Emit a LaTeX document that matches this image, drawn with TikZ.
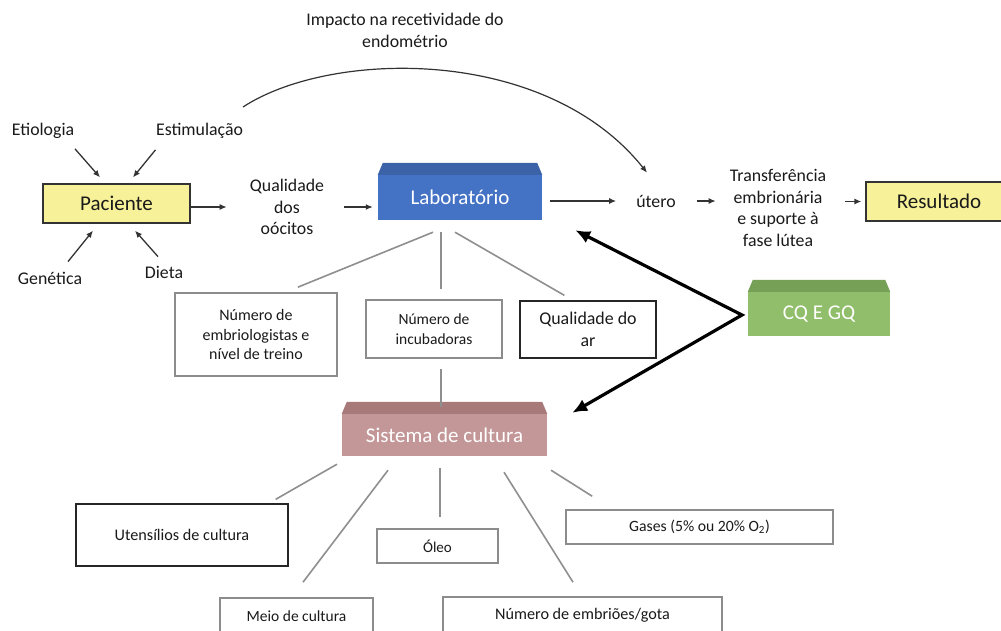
\documentclass[tikz,border=0pt]{standalone}
\usepackage{fontspec}
\setmainfont{Carlito}
\usetikzlibrary{arrows.meta,calc}
\definecolor{labblue}{HTML}{4472C4}
\definecolor{labtop}{HTML}{3C62A8}
\definecolor{cqgreen}{HTML}{90BE6A}
\definecolor{cqtop}{HTML}{76A055}
\definecolor{sysrose}{HTML}{C39797}
\definecolor{systop}{HTML}{A87979}
\definecolor{yfill}{HTML}{F7F199}
\definecolor{boxgray}{HTML}{8C8C8C}
\definecolor{lgray}{HTML}{8F8F8F}
\definecolor{arrgray}{HTML}{333333}
\definecolor{txt}{HTML}{1A1A1A}
\begin{document}
\begin{tikzpicture}[x=1pt,y=-1pt,
  lbl/.style={font=\fontsize{17.8}{21.5}\selectfont, text=txt, align=center, inner sep=1pt},
  sbox/.style={draw=boxgray, line width=1.6pt, fill=white, align=center, text=txt, inner sep=2pt},
  kbox/.style={draw=black!85, line width=1.3pt, fill=white, align=center, text=txt, inner sep=2pt},
  ybox/.style={draw=black!80, line width=1.3pt, fill=yfill, text=txt, font=\fontsize{21}{24}\selectfont},
  cube/.style={text=white, inner sep=0pt, font=\fontsize{21}{24}\selectfont},
  arr/.style={-{Latex[length=7pt,width=6pt]}, line width=1.3pt, draw=arrgray},
  tarr/.style={{Latex[length=15pt,width=13pt]}-{Latex[length=15pt,width=13pt]}, line width=3.2pt, draw=black, line join=miter},
  gl/.style={draw=lgray, line width=1.6pt}
]
\clip (0,0) rectangle (1001,630);
\fill[white] (0,0) rectangle (1001,630);

% labels
\node[lbl] (imp) at (405,30.5) {Impacto na recetividade do\\endométrio};
\node[lbl] (etio) at (43,131) {Etiologia};
\node[lbl] (estim) at (199.5,131) {Estimulação};
\node[lbl] (gen) at (50,278) {Genética};
\node[lbl] (dieta) at (164,272) {Dieta};
\node[ybox, minimum width=147pt, minimum height=39pt] (pac) at (116.5,203.5) {Paciente};
\node[lbl] (qual) at (287,207) {Qualidade\\dos\\oócitos};
\node[lbl] (utero) at (656,201) {útero};
\node[lbl] (transf) at (778,208) {Transferência\\embrionária\\e suporte à\\fase lútea};
\node[ybox, minimum width=146pt, minimum height=39pt] (res) at (939,201.5) {Resultado};

% 3D boxes
\node[cube, fill=labblue, minimum width=164pt, minimum height=45pt] (lab) at (460,197.5) {Laboratório};
\fill[labtop] (lab.north west) -- ([shift={(5,-12)}]lab.north west) -- ([shift={(-5,-12)}]lab.north east) -- (lab.north east) -- cycle;
\node[cube, fill=cqgreen, minimum width=142pt, minimum height=44pt] (cq) at (819,314) {CQ E GQ};
\fill[cqtop] (cq.north west) -- ([shift={(5,-12)}]cq.north west) -- ([shift={(-5,-12)}]cq.north east) -- (cq.north east) -- cycle;
\node[cube, fill=sysrose, minimum width=205pt, minimum height=42pt] (sys) at (444.5,435) {Sistema de cultura};
\fill[systop] (sys.north west) -- ([shift={(5,-12)}]sys.north west) -- ([shift={(-5,-12)}]sys.north east) -- (sys.north east) -- cycle;

% boxes
\node[sbox, minimum width=162pt, minimum height=83pt, font=\fontsize{16}{19.5}\selectfont] (emb) at (256,334.5) {Número de\\embriologistas e\\nível de treino};
\node[sbox, minimum width=136pt, minimum height=58pt, font=\fontsize{15.5}{19.5}\selectfont] (inc) at (434,329) {Número de\\incubadoras};
\node[kbox, minimum width=136pt, minimum height=57pt, font=\fontsize{17.9}{22}\selectfont] (air) at (588,329.5) {Qualidade do\\ar};
\node[kbox, minimum width=212pt, minimum height=62pt, font=\fontsize{16.2}{19}\selectfont] (ut) at (182,535) {Utensílios de cultura};
\node[sbox, minimum width=121pt, minimum height=34pt, font=\fontsize{15}{18}\selectfont] (oleo) at (437.5,546) {Óleo};
\node[sbox, minimum width=267pt, minimum height=34pt, font=\fontsize{15.7}{18}\selectfont] (gases) at (699.5,527) {Gases (5\% ou 20\% O\textsubscript{2})};
\node[sbox, minimum width=153pt, minimum height=36pt, font=\fontsize{15.5}{18}\selectfont] (meio) at (296.5,616) {Meio de cultura};
\node[sbox, minimum width=279pt, minimum height=36pt, font=\fontsize{16.2}{18}\selectfont] (gota) at (582.5,615) {Número de embriões/gota};

% small arrows into Paciente
\draw[arr] ([shift={(32,9)}]etio.south) -- ([shift={(-16.5,-6)}]pac.north);
\draw[arr] ([shift={(-44,10)}]estim.south) -- ([shift={(16.5,-6)}]pac.north);
\draw[arr] ([shift={(18,-9)}]gen.north) -- ([shift={(-23.5,7)}]pac.south);
\draw[arr] ([shift={(-6,-8)}]dieta.north) -- ([shift={(18.5,7)}]pac.south);

% main flow
\draw[arr, shorten >=22pt] (pac.east |- qual.west) -- (qual.west);
\draw[arr, shorten <=19pt, shorten >=5pt] (qual.east) -- (qual.east -| lab.west);
\draw[arr, shorten <=8pt, shorten >=19pt] (lab.east |- utero.west) -- (utero.west);
\draw[arr, shorten <=20pt, shorten >=13pt] (utero.east) -- (utero.east -| transf.west);
\draw[arr, shorten <=18pt, shorten >=4pt] (res.west -| transf.east) -- (res.west);

% arc
\coordinate (arcs) at (243,107);
\draw[arr, line width=1.2pt] (arcs) .. controls (330,50) and (545,45) .. ([shift={(-9,-21)}]utero.north);

% lines from Laboratorio
\draw[gl] ([shift={(-27,12)}]lab.south) -- ([shift={(-40,-5)}]emb.north east);
\draw[gl] ([shift={(-19,12)}]lab.south) -- ([shift={(7,-10)}]inc.north);
\draw[gl] ([shift={(-5,12)}]lab.south) -- ([shift={(45,-5)}]air.north west);
\draw[gl] ([shift={(7,10)}]inc.south) -- ([shift={(-3.5,-7)}]sys.north);

% lines from Sistema
\draw[gl] ([shift={(-107.5,8)}]sys.south) -- ([shift={(-13,-4)}]ut.north east);
\draw[gl] ([shift={(-56.5,14)}]sys.south) -- ([shift={(6.5,-15)}]meio.north);
\draw[gl] ([shift={(-4.5,12)}]sys.south) -- ([shift={(2.5,-11)}]oleo.north);
\draw[gl] ([shift={(59.5,16)}]sys.south) -- ([shift={(-9.5,-14)}]gota.north);
\draw[gl] ([shift={(106.5,14)}]sys.south) -- ([shift={(27,-13)}]gases.north west);

% thick arrows from CQ
\coordinate (cqv) at (742,315);
\draw[tarr] ([shift={(33,10)}]lab.south east) -- (cqv) -- ([shift={(25,-1)}]sys.north east);
\end{tikzpicture}
\end{document}
